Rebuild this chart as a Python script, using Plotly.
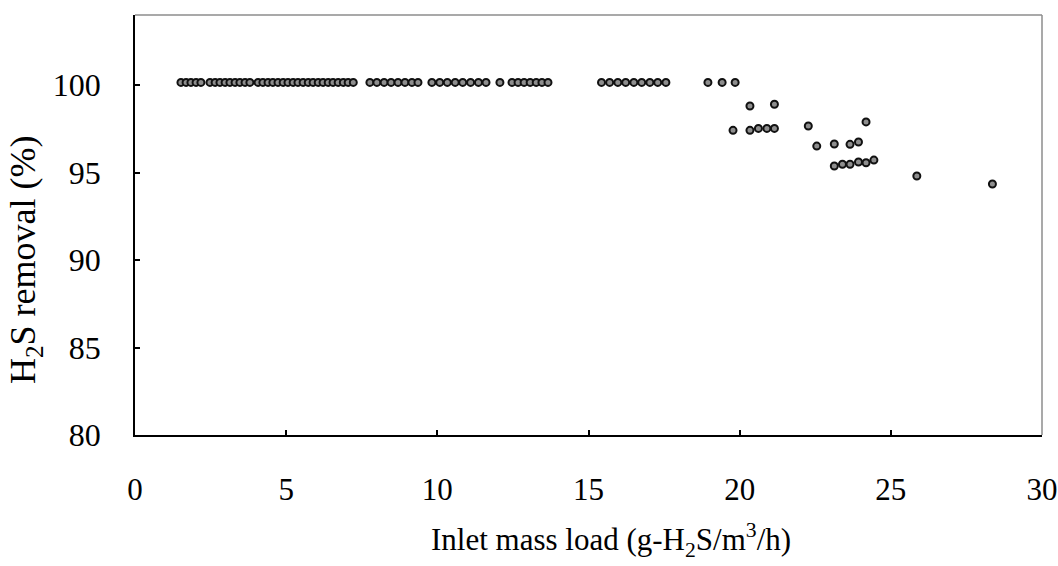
import plotly.graph_objects as go

# Inlet mass load (g-H2S/m3/h) and H2S removal (%)
top_load = [1.52, 1.69, 1.85, 2.02, 2.18,
            2.48, 2.65, 2.81, 2.98, 3.14, 3.31, 3.47, 3.64, 3.80,
            4.07, 4.23, 4.40, 4.56, 4.73, 4.90, 5.06, 5.23, 5.39, 5.56,
            5.73, 5.89, 6.06, 6.22, 6.39, 6.55, 6.72, 6.89, 7.05, 7.22,
            7.77, 8.00, 8.24, 8.47, 8.70, 8.93, 9.16,
            9.36, 9.82, 10.08, 10.33, 10.59, 10.84, 11.10, 11.36, 11.61,
            12.07, 12.47, 12.67, 12.87, 13.07, 13.27, 13.46, 13.66,
            15.43, 15.70, 15.97, 16.23, 16.50, 16.76, 17.03, 17.29, 17.56,
            18.95, 19.42, 19.85]
top_removal = [100.15] * len(top_load)

low_load = [19.78, 20.34, 21.15, 20.34, 20.62, 20.90, 21.15, 22.27, 24.18,
            22.55, 23.13, 23.65, 23.93, 23.13, 23.40, 23.65, 23.93, 24.18,
            24.44, 25.86, 28.36]
low_removal = [97.41, 98.80, 98.90, 97.41, 97.52, 97.52, 97.52, 97.66, 97.89,
               96.51, 96.63, 96.61, 96.74, 95.37, 95.47, 95.47, 95.60, 95.56,
               95.71, 94.80, 94.34]

load = top_load + low_load
removal = top_removal + low_removal

x_ticks = [0, 5, 10, 15, 20, 25, 30]
y_ticks = [80, 85, 90, 95, 100]

font = "Liberation Serif, Times New Roman, serif"

fig = go.Figure()
fig.add_trace(go.Scatter(
    x=load, y=removal, mode="markers",
    marker=dict(symbol="circle", size=7, color="#8e8e8e",
                line=dict(color="#111111", width=2)),
    showlegend=False, hoverinfo="x+y"))

fig.update_layout(
    width=1058, height=566,
    margin=dict(l=135, r=16, t=15, b=131),
    plot_bgcolor="white", paper_bgcolor="white",
    font=dict(family=font, size=30, color="black"),
    xaxis=dict(range=[0, 30], tickvals=x_ticks, ticks="inside", ticklen=5,
               tickwidth=1.5, tickcolor="black", showline=True, linecolor="black",
               linewidth=1.5, showgrid=False, zeroline=False, automargin=False,
               ticklabelstandoff=26, tickfont=dict(size=31)),
    yaxis=dict(range=[80, 104], tickvals=y_ticks, ticks="inside", ticklen=5,
               tickwidth=1.5, tickcolor="black", showline=True, linecolor="black",
               linewidth=1.5, showgrid=False, zeroline=False, automargin=False,
               ticklabelstandoff=26, tickfont=dict(size=32)),
    shapes=[
        dict(type="line", xref="paper", yref="paper", x0=0, x1=1, y0=1, y1=1,
             line=dict(color="#8c8c8c", width=1.5)),
        dict(type="line", xref="paper", yref="paper", x0=1, x1=1, y0=0, y1=1,
             line=dict(color="#8c8c8c", width=1.5)),
    ],
    annotations=[
        dict(text="Inlet mass load (g-H<sub>2</sub>S/m<sup>3</sup>/h)",
             xref="paper", yref="paper", x=0.525, y=-0.25,
             xanchor="center", yanchor="middle", showarrow=False,
             font=dict(size=31)),
        dict(text="H<sub>2</sub>S removal (%)", textangle=-90,
             xref="paper", yref="paper", x=-0.120, y=0.417,
             xanchor="center", yanchor="middle", showarrow=False,
             font=dict(size=36)),
    ],
)

fig.write_html("out.html")
